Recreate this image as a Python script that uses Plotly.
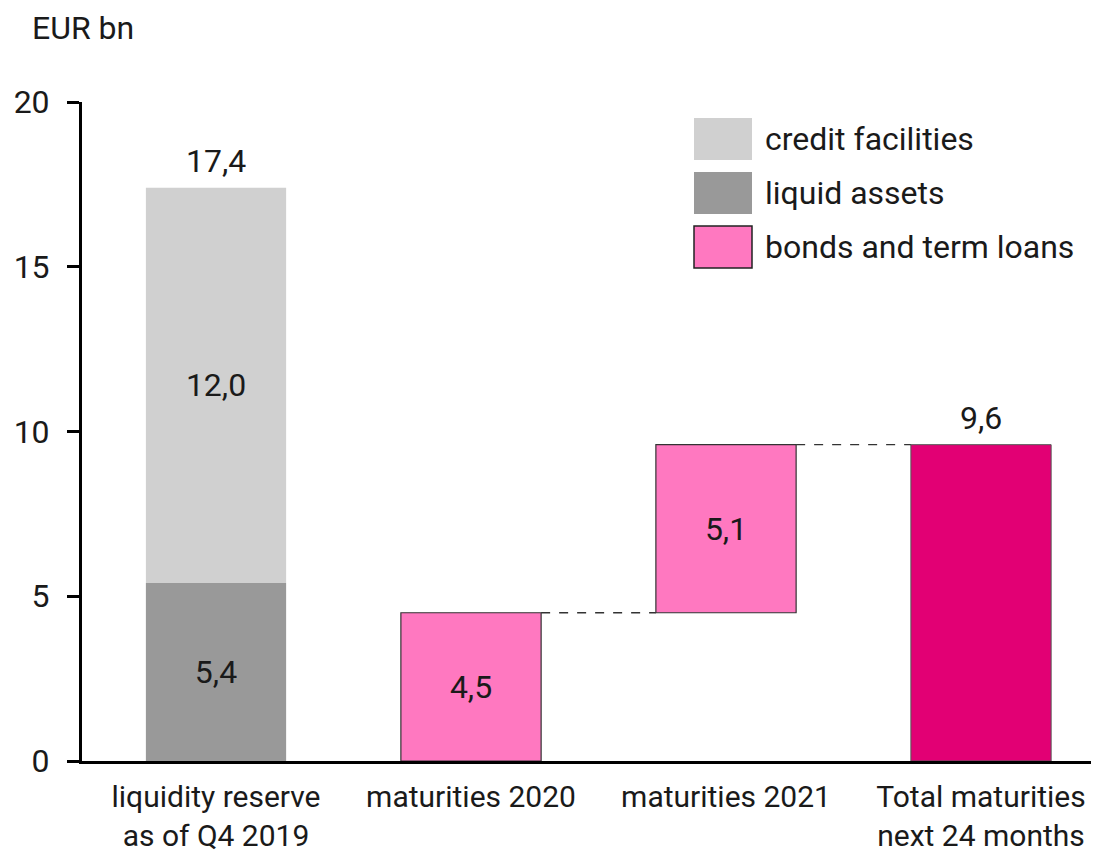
import plotly.graph_objects as go

categories = ["liquidity reserve<br>as of Q4 2019", "maturities 2020", "maturities 2021", "Total maturities<br>next 24 months"]
liquid_assets = 5.4
credit_facilities = 12.0
reserve_total = 17.4
maturities_2020 = 4.5
maturities_2021 = 5.1
total_maturities = 9.6
y_ticks = [0, 5, 10, 15, 20]

FONT = "Roboto"
FS = 32
TXT = "#1a1a1a"
BW = 0.55
xs = list(range(len(categories)))

fig = go.Figure()

# liquidity reserve stack
fig.add_bar(x=[xs[0]], y=[liquid_assets], base=[0], width=BW, marker=dict(color="#999999", line=dict(width=0)),
            text=["5,4"], textposition="inside", insidetextanchor="middle", showlegend=False)
fig.add_bar(x=[xs[0]], y=[credit_facilities], base=[liquid_assets], width=BW, marker=dict(color="#d0d0d0", line=dict(width=0)),
            text=["12,0"], textposition="inside", insidetextanchor="middle", showlegend=False)
# maturities
fig.add_bar(x=[xs[1], xs[2]], y=[maturities_2020, maturities_2021], base=[0, maturities_2020], width=BW,
            marker=dict(color="#ff78c0", line=dict(width=1.2, color="#333333")),
            text=["4,5", "5,1"], textposition="inside", insidetextanchor="middle", showlegend=False)
fig.add_bar(x=[xs[3]], y=[total_maturities], base=[0], width=BW,
            marker=dict(color="#e20074", line=dict(width=1, color="#555555")), showlegend=False)

fig.update_traces(textfont=dict(family=FONT, size=FS, color=TXT), textangle=0, constraintext="none",
                  selector=dict(type="bar"))

# connectors
fig.add_scatter(x=[xs[1] + BW / 2, xs[2] - BW / 2], y=[maturities_2020, maturities_2020], mode="lines",
                line=dict(color="#333333", width=1.3, dash="dash"), showlegend=False, hoverinfo="skip")
fig.add_scatter(x=[xs[2] + BW / 2, xs[3] - BW / 2], y=[total_maturities, total_maturities], mode="lines",
                line=dict(color="#333333", width=1.3, dash="dash"), showlegend=False, hoverinfo="skip")

# totals above bars
fig.add_annotation(x=xs[0], y=reserve_total, text="17,4", showarrow=False, yanchor="middle", yshift=27,
                   font=dict(family=FONT, size=FS, color=TXT))
fig.add_annotation(x=xs[3], y=total_maturities, text="9,6", showarrow=False, yanchor="middle", yshift=27,
                   font=dict(family=FONT, size=FS, color=TXT))

# unit
fig.add_annotation(xref="paper", yref="paper", x=(30 - 82) / 1017, y=1.0, xanchor="left", yanchor="middle",
                   yshift=74, text="EUR bn", showarrow=False, font=dict(family=FONT, size=FS, color=TXT))

# legend (manual)
legend_items = [("credit facilities", "#d0d0d0", None), ("liquid assets", "#999999", None),
                ("bonds and term loans", "#ff78c0", "#222222")]
for i, (name, col, lc) in enumerate(legend_items):
    top = 118 + i * 54
    y0 = 1 - (top - 102) / 659
    y1 = 1 - (top + 42 - 102) / 659
    x0 = (694 - 82) / 1017
    x1 = (752 - 82) / 1017
    fig.add_shape(type="rect", xref="paper", yref="paper", x0=x0, x1=x1, y0=y1, y1=y0,
                  fillcolor=col, line=dict(width=1.5 if lc else 0, color=lc or col))
    fig.add_annotation(xref="paper", yref="paper", x=(763 - 82) / 1017, y=(y0 + y1) / 2, xanchor="left",
                       yanchor="middle", text=name, showarrow=False, font=dict(family=FONT, size=FS, color=TXT))

fig.update_layout(
    width=1091, height=846, margin=dict(l=74, r=0, t=94, b=93),
    plot_bgcolor="white", paper_bgcolor="white", barmode="overlay",
    font=dict(family=FONT, size=FS, color=TXT),
    xaxis=dict(range=[-134 / 255, 883 / 255], tickvals=xs, ticktext=categories, showgrid=False,
               zeroline=False, showline=True, linecolor="black", linewidth=3, ticks="", fixedrange=True,
               ticklabelstandoff=7, automargin=False, tickfont=dict(size=30)),
    yaxis=dict(range=[0, 20], tickvals=y_ticks, showgrid=False, zeroline=False, showline=True,
               linecolor="black", linewidth=3, ticks="outside", ticklen=12, tickwidth=3, tickcolor="black",
               ticklabelstandoff=11, automargin=False),
    showlegend=False,
)

fig.write_html("out.html")
